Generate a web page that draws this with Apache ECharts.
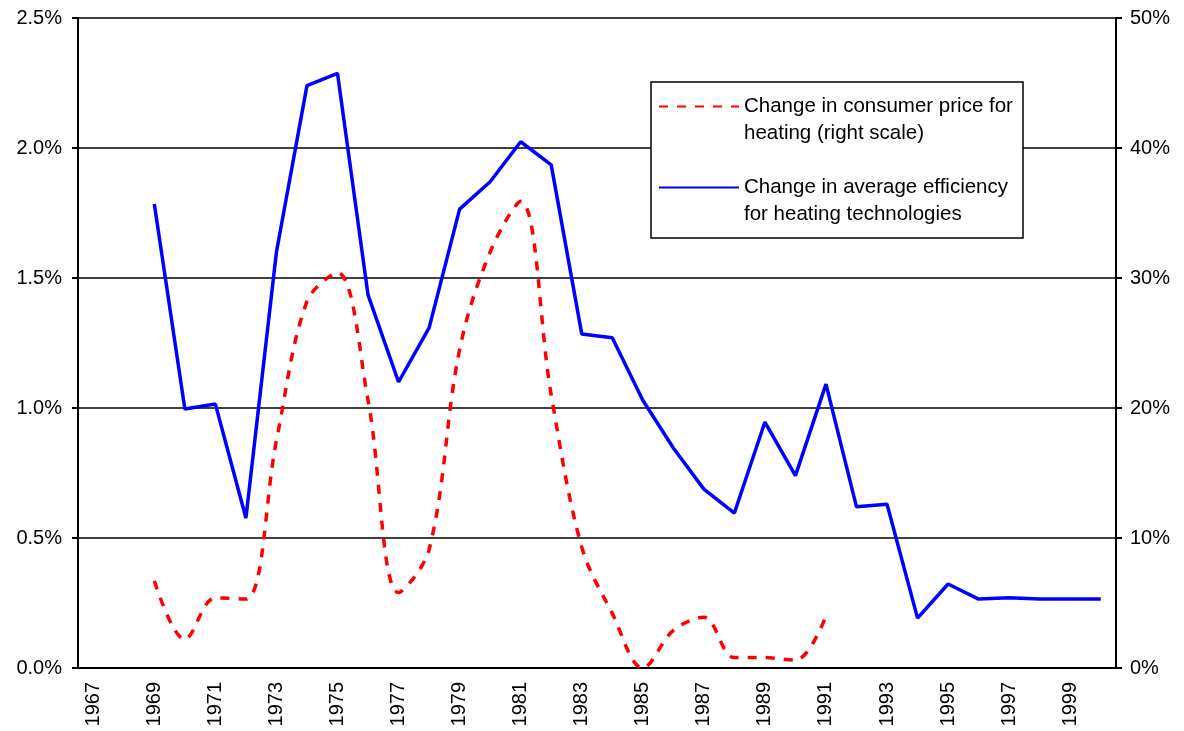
<!DOCTYPE html>
<html>
<head>
<meta charset="utf-8">
<script src="https://cdn.jsdelivr.net/npm/echarts@6/dist/echarts.min.js"></script>
<style>
  html, body { margin: 0; padding: 0; background: #fff; }
  #chart { width: 1184px; height: 731px; }
</style>
</head>
<body>
<div id="chart"></div>
<script>
const years = []
for (let y = 1967; y <= 2000; y++) years.push(String(y))

// change in average efficiency, % (left scale)
const efficiency = [
  null, null,
  1.785, 0.996, 1.015, 0.577, 1.60, 2.24, 2.287, 1.435, 1.10, 1.308,
  1.765, 1.87, 2.024, 1.935, 1.285, 1.27, 1.03, 0.846, 0.688, 0.596,
  0.946, 0.74, 1.092, 0.62, 0.63, 0.192, 0.323, 0.265, 0.27, 0.265,
  0.265, 0.265
]

// change in consumer price for heating, % (right scale)
const price = [
  null, null,
  6.7, 2.2, 5.4, 5.3, 17.5, 28.2, 30.4, 20.6, 5.8, 9.1,
  24.5, 32.0, 35.9, 21.0, 9.3, 4.2, 0.0, 2.9, 3.9, 0.8,
  0.8, 0.6, 4.0,
  null, null, null, null, null, null, null, null, null
]

const leftTicks = [0, 0.5, 1.0, 1.5, 2.0, 2.5]
const rightTicks = [0, 10, 20, 30, 40, 50]

const priceName = 'Change in consumer price for heating (right scale)'
const effName = 'Change in average efficiency for heating technologies'
const legendText = {}
legendText[priceName] = 'Change in consumer price for\nheating (right scale)'
legendText[effName] = 'Change in average efficiency\nfor heating technologies'

const font = '"Liberation Sans", Arial, sans-serif'
const chart = echarts.init(document.getElementById('chart'))

const option = {
  animation: false,
  textStyle: { fontFamily: font },
  grid: { left: 78, right: 68, top: 18, bottom: 63, outerBoundsMode: 'none' },
  graphic: [{
    type: 'rect',
    z: 5,
    shape: { x: 651, y: 82, width: 372, height: 156 },
    style: { fill: '#fff', stroke: '#000', lineWidth: 1.5 }
  }],
  legend: {
    z: 6,
    orient: 'vertical',
    left: 658,
    top: 66,
    padding: 0,
    itemGap: 0,
    itemWidth: 80,
    itemHeight: 10,
    itemStyle: { opacity: 0 },
    data: [priceName, effName],
    formatter: name => '\n' + legendText[name],
    textStyle: { fontSize: 20.5, lineHeight: 27, color: '#000', fontFamily: font }
  },
  xAxis: [
    {
      type: 'category',
      data: years,
      boundaryGap: true,
      axisLine: { lineStyle: { color: '#000', width: 2 } },
      axisTick: { interval: 0, length: 6, lineStyle: { color: '#000', width: 2 } },
      axisLabel: { interval: 1, rotate: 90, margin: 14, fontSize: 20, color: '#000', fontFamily: font }
    },
    {
      type: 'category',
      data: years,
      position: 'bottom',
      boundaryGap: true,
      axisLine: { show: false },
      axisTick: { inside: true, interval: 0, length: 6, lineStyle: { color: '#000', width: 2 } },
      axisLabel: { show: false }
    }
  ],
  yAxis: [
    {
      type: 'value',
      min: leftTicks[0],
      max: leftTicks[leftTicks.length - 1],
      interval: 0.5,
      axisLine: { show: true, lineStyle: { color: '#000', width: 2 } },
      axisTick: { show: true, length: 6, lineStyle: { color: '#000', width: 2 } },
      axisLabel: { margin: 16, fontSize: 20, color: '#000', fontFamily: font, formatter: v => v.toFixed(1) + '%' },
      splitLine: { lineStyle: { color: '#000', width: 1.5 } }
    },
    {
      type: 'value',
      position: 'right',
      min: rightTicks[0],
      max: rightTicks[rightTicks.length - 1],
      interval: 10,
      axisLine: { show: true, lineStyle: { color: '#000', width: 2 } },
      axisTick: { show: true, length: 6, lineStyle: { color: '#000', width: 2 } },
      axisLabel: { margin: 14, fontSize: 20, color: '#000', fontFamily: font, formatter: v => v + '%' },
      splitLine: { show: false }
    }
  ],
  series: [
    {
      name: priceName,
      type: 'line',
      yAxisIndex: 1,
      data: price,
      smooth: 0.35,
      symbol: 'none',
      color: '#ff0000',
      lineStyle: { color: '#ff0000', width: 3.5, type: [9, 9] }
    },
    {
      name: effName,
      type: 'line',
      yAxisIndex: 0,
      data: efficiency,
      symbol: 'none',
      color: '#0000ff',
      lineStyle: { color: '#0000ff', width: 3.5 }
    }
  ]
}
chart.setOption(option)
</script>
</body>
</html>
